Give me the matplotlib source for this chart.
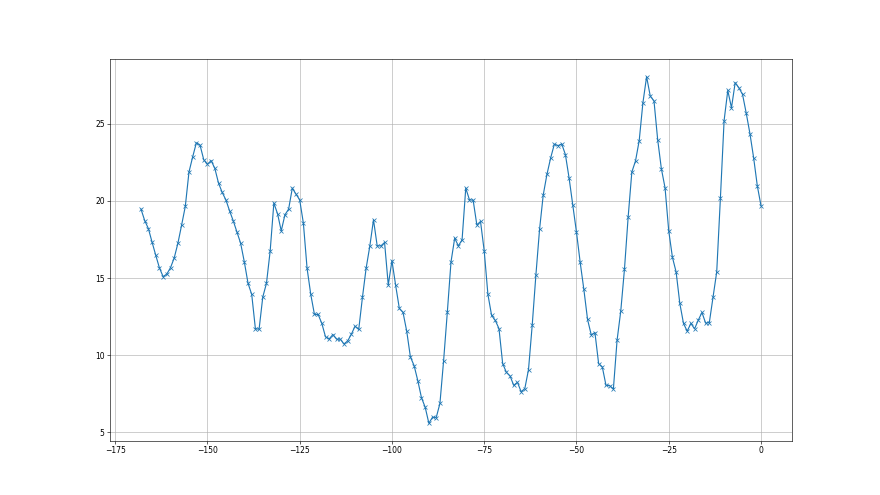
import numpy as np
import matplotlib
matplotlib.use('Agg')
import matplotlib.pyplot as plt

# x positions: one reading per step, from -168 up to 0
x = np.arange(-168, 1)

# values, left to right
seg_a = [19.46, 18.72, 18.2, 17.32, 16.47, 15.65, 15.09, 15.26, 15.67, 16.3,
         17.25, 18.42, 19.63, 21.86, 22.84, 23.75, 23.6, 22.66, 22.36, 22.6,
         22.1, 21.15, 20.54, 20.06, 19.35, 18.7, 17.97, 17.25, 16.04, 14.66]
seg_b = [13.94, 11.71, 11.69, 13.77, 14.66, 16.75, 19.85, 19.16, 18.05, 19.09,
         19.46, 20.82, 20.43, 20.06, 18.55, 15.63, 13.94, 12.64, 12.64, 12.06,
         11.19, 11.06, 11.34, 11.04, 11.04, 10.73, 10.93, 11.36, 11.88, 11.67]
seg_c = [13.74, 15.63, 17.06, 18.77, 17.08, 17.08, 17.3, 14.55, 16.12, 14.53,
         13.03, 12.77, 11.56, 9.89, 9.33, 8.36, 7.25, 6.64, 5.6, 5.99,
         5.97, 6.88, 9.66, 12.77, 16.04, 17.58, 17.08, 17.47]
seg_d = [20.82, 20.06, 20.04, 18.44, 18.66, 16.75, 13.94, 12.58, 12.25, 11.73,
         9.46, 8.9, 8.66, 8.05, 8.25, 7.64, 7.84, 9.07, 11.93, 15.18,
         18.16, 20.39, 21.71, 22.77, 23.66, 23.57]
seg_e = [23.68, 22.99, 21.47, 19.72, 17.97, 16.02, 14.26, 12.32, 11.32, 11.47,
         9.46, 9.24, 8.05, 8.03, 7.81, 10.97, 12.86, 15.56, 18.94, 21.86,
         22.58, 23.9, 26.34, 28.03]
seg_f = [26.77, 26.47, 23.96, 22.08, 20.84, 18.05, 16.34, 15.39, 13.36, 12.06,
         11.56, 12.06, 11.71, 12.27, 12.77, 12.08, 12.12, 13.74, 15.39, 20.17,
         25.19, 27.14, 26.02, 27.64, 27.32, 26.88, 25.67, 24.35, 22.79, 20.97,
         19.68]

y = np.array(seg_a + seg_b + seg_c + seg_d + seg_e + seg_f)

fig, ax = plt.subplots(figsize=(16, 9), dpi=55)
ax.plot(x, y, marker='x')
ax.grid(True)
fig.savefig('out.png', dpi=55)
